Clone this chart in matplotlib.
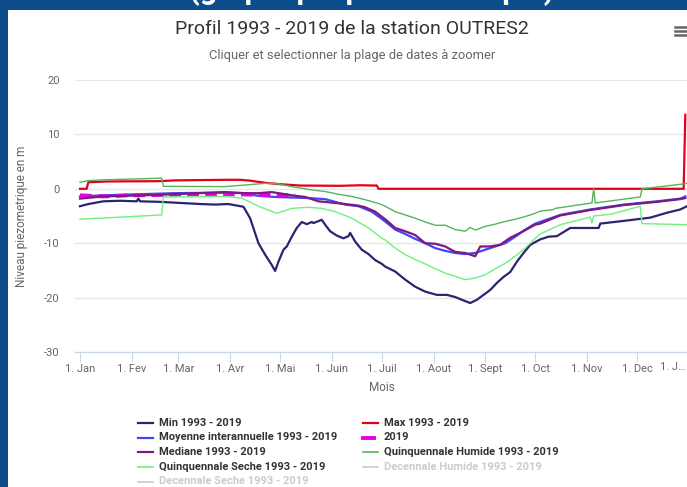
import matplotlib
matplotlib.use('Agg')
import matplotlib.pyplot as plt
from matplotlib.lines import Line2D
from matplotlib.patches import Rectangle

plt.rcParams['font.family'] = ['Roboto', 'DejaVu Sans']
plt.rcParams['axes.unicode_minus'] = False

W, H = 687, 487

# day of year (0 = 1 Jan) and level in m
min_days = [0, 5, 14, 24, 34, 35, 36, 48, 60, 72, 81, 89, 98, 102, 107, 111, 115, 117, 119, 122,
            124, 127, 130, 133, 136, 139, 140, 145, 147, 150, 154, 158, 161, 162, 165, 169, 173, 177, 181, 183,
            189, 195, 201, 207, 214, 220, 225, 229, 234, 238, 242, 246, 250, 254, 258, 262, 266, 270, 276, 281,
            286, 294, 311, 312, 326, 342, 352, 360, 364]
min_vals = [-3.2, -2.8, -2.3, -2.2, -2.3, -1.8, -2.3, -2.4, -2.6, -2.8, -2.9, -2.8, -3.3, -5.4, -10.0, -12.1, -14.0, -15.1, -13.4, -11.2,
            -10.6, -8.8, -7.2, -6.1, -6.5, -6.1, -6.3, -5.7, -6.6, -7.8, -8.6, -9.1, -8.7, -8.1, -9.7, -11.2, -12.0, -13.1, -13.8, -14.3,
            -15.2, -16.7, -18.0, -18.9, -19.5, -19.5, -19.9, -20.4, -21.0, -20.4, -19.5, -18.6, -17.3, -16.2, -15.3, -13.4, -11.8, -10.3, -9.3, -8.8,
            -8.7, -7.2, -7.2, -6.4, -5.9, -5.3, -4.4, -3.8, -3.2]

max_days = [0, 4, 5, 17, 47, 57, 87, 96, 102, 111, 120, 132, 156, 168, 177, 178, 179, 362, 363]
max_vals = [0.0, 0.0, 1.2, 1.35, 1.4, 1.55, 1.65, 1.65, 1.5, 1.1, 0.85, 0.6, 0.55, 0.65, 0.6, 0.6, 0.0, 0.0, 13.6]

moy_days = [0, 14, 57, 87, 97, 107, 117, 137, 147, 159, 167, 175, 183, 189, 195, 201, 207, 213, 219, 225,
            231, 237, 243, 249, 255, 261, 267, 273, 288, 306, 326, 346, 360, 363]
moy_vals = [-1.4, -1.2, -0.8, -0.7, -0.8, -1.3, -1.5, -1.7, -1.9, -2.9, -3.2, -4.2, -6.0, -7.5, -8.3, -9.2, -10.0, -10.9, -11.4, -11.8,
            -12.0, -11.8, -11.2, -10.6, -10.0, -8.8, -7.5, -6.4, -4.8, -3.8, -2.9, -2.3, -1.8, -1.4]

y2019_days = [0, 14, 30, 60, 90, 110, 129]
y2019_vals = [-1.2, -1.4, -1.2, -1.1, -1.0, -1.1, -1.2]

med_days = [0, 14, 48, 87, 99, 107, 115, 127, 135, 143, 153, 159, 167, 171, 177, 183, 189, 195, 201, 207,
            213, 219, 225, 231, 237, 240, 246, 252, 258, 264, 273, 276, 288, 306, 326, 346, 360, 363]
med_vals = [-1.8, -1.4, -1.1, -0.6, -0.8, -0.8, -0.6, -1.2, -1.5, -2.3, -2.6, -2.8, -3.1, -3.4, -4.2, -5.6, -7.2, -7.8, -8.5, -10.0,
            -10.1, -10.6, -11.6, -11.8, -12.4, -10.6, -10.6, -10.3, -9.0, -8.1, -6.6, -6.4, -4.9, -3.9, -3.0, -2.4, -1.9, -1.7]

qh_days = [0, 5, 14, 49, 50, 87, 99, 111, 117, 127, 139, 147, 155, 163, 171, 179, 183, 189, 195, 201,
           207, 213, 219, 225, 231, 234, 237, 243, 249, 255, 261, 267, 273, 276, 284, 285, 307, 308, 309, 336,
           337, 362, 364]
qh_vals = [1.2, 1.5, 1.65, 1.95, 0.45, 0.4, 0.7, 1.0, 1.0, 0.4, -0.2, -0.5, -1.0, -1.4, -2.0, -2.7, -3.2, -4.2, -4.8, -5.4,
           -6.1, -6.7, -6.7, -7.5, -7.8, -7.1, -7.6, -6.9, -6.5, -6.0, -5.6, -5.1, -4.5, -4.1, -3.8, -3.6, -2.6, 0.0, -2.6, -1.5,
           0.0, 0.9, 1.0]

qs_days = [0, 49, 50, 87, 97, 107, 118, 127, 137, 145, 153, 163, 173, 181, 183, 189, 195, 201, 207, 213,
           219, 225, 231, 237, 243, 249, 255, 261, 267, 273, 276, 288, 306, 307, 308, 318, 336, 337, 364]
qs_vals = [-5.6, -4.8, -1.5, -1.4, -1.7, -3.2, -4.5, -3.6, -3.4, -3.6, -4.2, -5.4, -7.2, -9.1, -9.4, -10.9, -12.1, -13.0, -13.8, -14.7,
           -15.5, -16.1, -16.7, -16.4, -15.8, -14.7, -13.7, -12.4, -10.9, -9.1, -8.3, -6.6, -5.2, -6.3, -5.0, -4.7, -3.2, -6.4, -6.6]

month_days = [0, 31, 59, 90, 120, 151, 181, 212, 243, 273, 304, 334, 365]
month_labels = ['1. Jan', '1. Fev', '1. Mar', '1. Avr', '1. Mai', '1. Juin', '1. Juil',
                '1. Aout', '1. Sept', '1. Oct', '1. Nov', '1. Dec', '1. J\u2026']
y_ticks = [-30, -20, -10, 0, 10, 20]

c_min = '#2b2470'
c_max = '#e3001b'
c_moy = '#4047f5'
c_2019 = '#e600e6'
c_med = '#7d1a7d'
c_qh = '#55b55a'
c_qs = '#6ff07f'
c_hidden = '#cccccc'

fig = plt.figure(figsize=(W / 100, H / 100), dpi=100, facecolor='#0d4d8c')
fig.add_artist(Rectangle((8 / W, 0), 1, 477 / H, transform=fig.transFigure,
                         facecolor='white', edgecolor='none', zorder=0))

# cropped caption of the page behind the chart (only the descenders show)
fig.text(372 / W, 1 + 1 / H, '(graphique piézométrique)', color='white', fontsize=22,
         fontweight='bold', ha='center', va='baseline')

fig.text(352 / W, 1 - 29 / H, 'Profil 1993 - 2019 de la station OUTRES2', color='#333333',
         fontsize=14, ha='center', va='center')
fig.text(352 / W, 1 - 56 / H, 'Cliquer et selectionner la plage de dates à zoomer',
         color='#666666', fontsize=9.3, ha='center', va='center')

# export menu icon
for yy in [27, 31, 35]:
    fig.add_artist(Line2D([675 / W, 689 / W], [1 - yy / H] * 2, transform=fig.transFigure,
                          color='#666666', lw=1.8))

ax = fig.add_axes([75 / W, 135 / H, 614 / W, 272 / H])
ax.set_facecolor('none')
ax.set_xlim(-3, 365.2)
ax.set_ylim(-30, 20)

for v in y_ticks[1:]:
    ax.axhline(v, color='#e6e6e6', lw=1, zorder=1)

ax.plot(min_days, min_vals, color=c_min, lw=1.6, zorder=3)
ax.plot(max_days, max_vals, color=c_max, lw=1.6, zorder=3)
ax.plot(moy_days, moy_vals, color=c_moy, lw=1.6, zorder=3)
ax.plot(y2019_days, y2019_vals, color=c_2019, lw=2.8, dashes=(3.0, 1.6), zorder=3)
ax.plot(med_days, med_vals, color=c_med, lw=1.6, zorder=3)
ax.plot(qh_days, qh_vals, color=c_qh, lw=1.0, zorder=3)
ax.plot(qs_days, qs_vals, color=c_qs, lw=1.0, zorder=3)

for s in ['top', 'right', 'left']:
    ax.spines[s].set_visible(False)
ax.spines['bottom'].set_color('#ccd6eb')
ax.spines['bottom'].set_linewidth(1)

ax.set_xticks(month_days)
ax.set_xticklabels(month_labels[:-1] + [''])
ax.set_yticks(y_ticks)
ax.set_yticklabels([str(v) for v in y_ticks])
ax.tick_params(axis='x', length=7, width=0.8, color='#ccd6eb', labelsize=8,
               labelcolor='#666666', pad=2)
ax.tick_params(axis='y', length=0, labelsize=8, labelcolor='#666666', pad=11)
# last month label is shortened and pulled inside the chart
ax.text(363.4, -15 / 272, month_labels[-1], transform=ax.get_xaxis_transform(),
        fontsize=8, color='#666666', ha='right', va='center')

ax.set_xlabel('Mois', color='#666666', fontsize=8.5, labelpad=5)
fig.text(22 / W, 1 - 216 / H, 'Niveau piezometrique en m', color='#666666', fontsize=8.5,
         rotation=90, ha='center', va='center')

# legend
legend_items = [
    ('Min 1993 - 2019', c_min, 0, 0, 1.6),
    ('Moyenne interannuelle 1993 - 2019', c_moy, 0, 1, 1.6),
    ('Mediane 1993 - 2019', c_med, 0, 2, 1.6),
    ('Quinquennale Seche 1993 - 2019', c_qs, 0, 3, 1.2),
    ('Decennale Seche 1993 - 2019', None, 0, 4, 1.2),
    ('Max 1993 - 2019', c_max, 1, 0, 1.6),
    ('2019', c_2019, 1, 1, 2.8),
    ('Quinquennale Humide 1993 - 2019', c_qh, 1, 2, 1.2),
    ('Decennale Humide 1993 - 2019', None, 1, 3, 1.2),
]
col_x = [138, 363]
row_y = [423, 437.5, 452, 467, 481.5]
for label, color, col, row, lw in legend_items:
    x0 = col_x[col]
    yy = 1 - row_y[row] / H
    x1 = x0 + (11 if label == '2019' else 15)
    fig.add_artist(Line2D([x0 / W, x1 / W], [yy, yy], transform=fig.transFigure,
                          color=color if color else c_hidden, lw=lw))
    fig.text((x0 + 21) / W, yy, label, fontsize=8, fontweight='bold',
             color='#333333' if color else c_hidden, ha='left', va='center')

fig.savefig('out.png', dpi=100, facecolor=fig.get_facecolor())
